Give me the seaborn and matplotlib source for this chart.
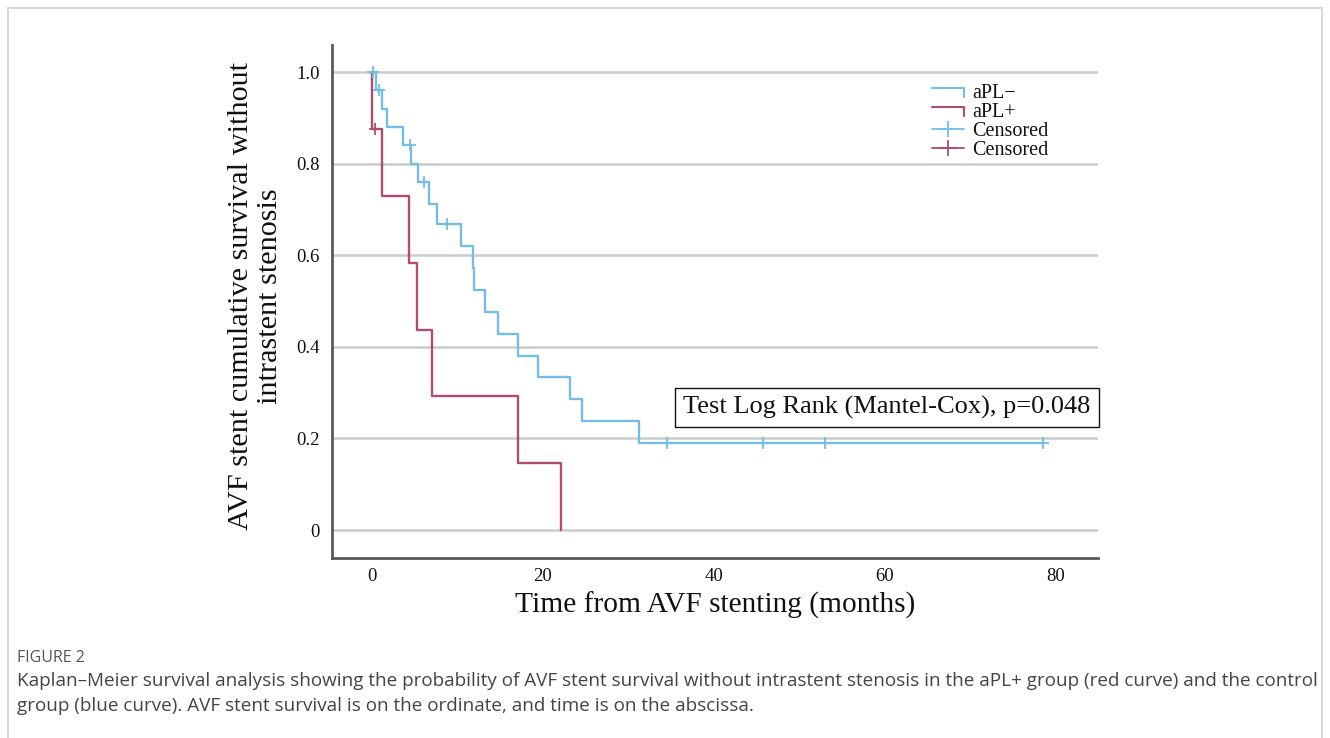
import matplotlib
matplotlib.use("Agg")
import matplotlib.pyplot as plt
import seaborn as sns
import pandas as pd
from matplotlib.lines import Line2D
from matplotlib.legend_handler import HandlerBase

# ---------------- data ----------------
neg_times = [0.0, 0.47, 1.2, 1.75, 3.6, 4.6, 5.4, 6.7, 7.6, 10.4, 11.8, 11.95,
             13.2, 14.75, 17.1, 19.4, 23.2, 24.6, 31.3, 78.6]
neg_surv = [1.0, 0.96, 0.92, 0.88, 0.84, 0.80, 0.76, 0.712, 0.668, 0.62, 0.572,
            0.524, 0.476, 0.428, 0.38, 0.334, 0.286, 0.238, 0.19, 0.19]
neg_cens_t = [0.1, 0.8, 4.5, 6.1, 8.8, 34.5, 45.8, 53.0, 78.6]
neg_cens_s = [1.0, 0.96, 0.84, 0.76, 0.668, 0.19, 0.19, 0.19, 0.19]

pos_times = [0.0, 0.0, 1.2, 4.3, 5.3, 7.0, 17.1, 22.1]
pos_surv = [1.0, 0.875, 0.729, 0.583, 0.4375, 0.2917, 0.1458, 0.0]
pos_cens_t = [0.3]
pos_cens_s = [0.875]

x_ticks = [0, 20, 40, 60, 80]
y_ticks = [0, 0.2, 0.4, 0.6, 0.8, 1.0]
y_tick_labels = ["0", "0.2", "0.4", "0.6", "0.8", "1.0"]
legend_labels = ["aPL\u2212", "aPL+", "Censored", "Censored"]
test_text = "Test Log Rank (Mantel-Cox), p=0.048"

BLUE = "#74bde9"
RED = "#ad4d6f"

sns.set_theme(style="white")
plt.rcParams["font.family"] = ["Liberation Serif", "DejaVu Serif"]

fig = plt.figure(figsize=(13.3, 7.38), dpi=100)
W, H = 1330, 738
ax = fig.add_axes([332 / W, (H - 558) / H, (1098 - 332) / W, (558 - 45) / H])

df_neg = pd.DataFrame({"t": neg_times, "s": neg_surv})
df_pos = pd.DataFrame({"t": pos_times, "s": pos_surv})
sns.lineplot(data=df_neg, x="t", y="s", ax=ax, color=BLUE, lw=1.7,
             drawstyle="steps-post", estimator=None, sort=False, zorder=3)
sns.lineplot(data=df_pos, x="t", y="s", ax=ax, color=RED, lw=1.7,
             drawstyle="steps-post", estimator=None, sort=False, zorder=4)
sns.scatterplot(x=neg_cens_t, y=neg_cens_s, ax=ax, marker="+", s=70,
                color=BLUE, linewidth=1.3, zorder=5)
sns.scatterplot(x=pos_cens_t, y=pos_cens_s, ax=ax, marker="+", s=70,
                color=RED, linewidth=1.3, zorder=5)

ax.set_xlim(-4.68, 85.0)
ax.set_ylim(-0.061, 1.059)
ax.set_xticks(x_ticks)
ax.set_xticklabels([str(v) for v in x_ticks])
ax.set_yticks(y_ticks)
ax.set_yticklabels(y_tick_labels)
ax.tick_params(axis="both", length=0, labelsize=13.5, colors="#111111")
ax.tick_params(axis="y", pad=9)
ax.tick_params(axis="x", pad=7)
ax.yaxis.grid(True, color="#cccccc", lw=1.8)
ax.xaxis.grid(False)
ax.set_axisbelow(True)
for side in ["top", "right"]:
    ax.spines[side].set_visible(False)
for side in ["left", "bottom"]:
    ax.spines[side].set_color("#5a5a5a")
    ax.spines[side].set_linewidth(2.0)

ax.set_xlabel("Time from AVF stenting (months)", fontsize=21.2, color="#111111")
ax.xaxis.set_label_coords(0.5, -0.066)
ax.set_ylabel("AVF stent cumulative survival without\nintrastent stenosis",
              fontsize=21.8, color="#111111", linespacing=1.15)
ax.yaxis.set_label_coords(-0.064, 0.51)

ax.text(60.3, 0.268, test_text, fontsize=19, ha="center", va="center",
        color="#111111", zorder=6,
        bbox=dict(boxstyle="square,pad=0.3", fc="white", ec="#111111", lw=1.0))


class StepHandler(HandlerBase):
    def create_artists(self, legend, orig_handle, xdescent, ydescent,
                       width, height, fontsize, trans):
        x0, y0 = -xdescent, -ydescent
        ln = Line2D([x0, x0 + width, x0 + width],
                    [y0 + height * 0.75, y0 + height * 0.75, y0 + height * 0.05],
                    color=orig_handle.get_color(), lw=1.5)
        ln.set_transform(trans)
        return [ln]


h_neg = Line2D([], [], color=BLUE, lw=1.5)
h_pos = Line2D([], [], color=RED, lw=1.5)
h_cn = Line2D([], [], color=BLUE, lw=1.3, marker="+", markersize=12, markeredgewidth=1.3)
h_cp = Line2D([], [], color=RED, lw=1.3, marker="+", markersize=12, markeredgewidth=1.3)
leg = ax.legend([h_neg, h_pos, h_cn, h_cp], legend_labels,
                handler_map={h_neg: StepHandler(), h_pos: StepHandler()},
                loc="upper left", bbox_to_anchor=((932 - 332) / 766, (558 - 84) / 513),
                frameon=False, fontsize=14.5, labelspacing=0.0, handlelength=1.6,
                handletextpad=0.4, borderpad=0, borderaxespad=0, numpoints=1)
for t in leg.get_texts():
    t.set_color("#111111")

# figure border
fig.add_artist(Line2D([8 / W, 8 / W], [0, 1 - 8 / H], color="#cfcfcf", lw=1.2,
                      transform=fig.transFigure))
fig.add_artist(Line2D([8 / W, 1322 / W], [1 - 8 / H, 1 - 8 / H], color="#cfcfcf", lw=1.2,
                      transform=fig.transFigure))
fig.add_artist(Line2D([1322 / W, 1322 / W], [0, 1 - 8 / H], color="#cfcfcf", lw=1.2,
                      transform=fig.transFigure))

cap_font = ["Open Sans", "DejaVu Sans"]
fig.text(17 / W, 1 - 658 / H, "FIGURE 2", family=cap_font, fontsize=11.5,
         color="#555555", ha="left", va="center")
fig.text(17 / W, 1 - 681 / H,
         "Kaplan\u2013Meier survival analysis showing the probability of AVF stent survival "
         "without intrastent stenosis in the aPL+ group (red curve) and the control",
         family=cap_font, fontsize=13.55, color="#444444", ha="left", va="center")
fig.text(17 / W, 1 - 706 / H,
         "group (blue curve). AVF stent survival is on the ordinate, and time is on the abscissa.",
         family=cap_font, fontsize=13.55, color="#444444", ha="left", va="center")

fig.savefig("out.png", dpi=100)
